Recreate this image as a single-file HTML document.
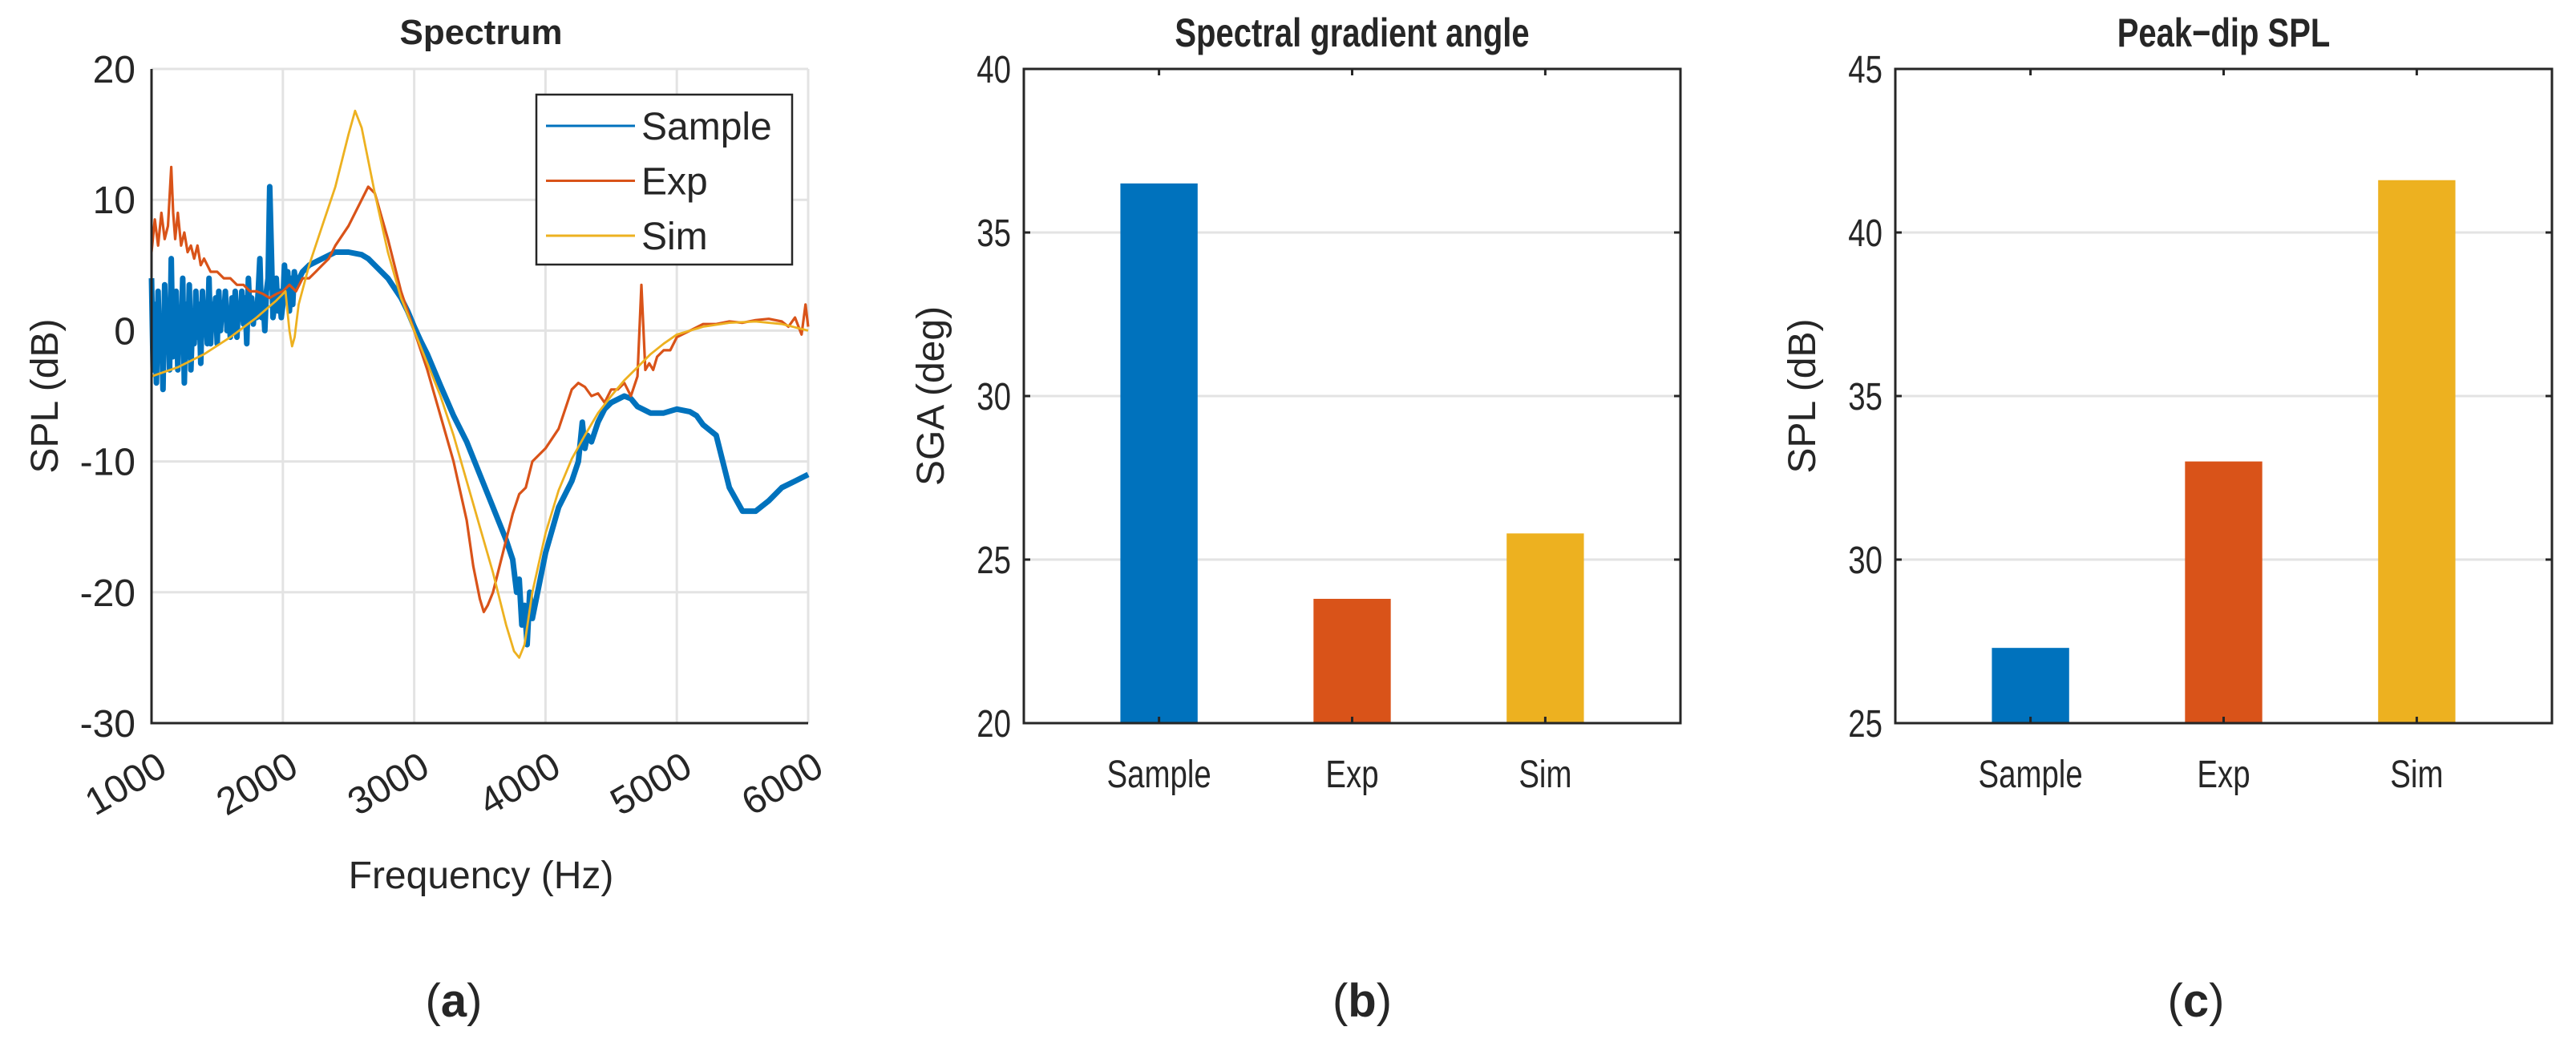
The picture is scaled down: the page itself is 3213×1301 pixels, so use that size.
<!DOCTYPE html>
<html><head><meta charset="utf-8">
<style>
html,body{margin:0;padding:0;background:#fff;}
svg{display:block;}
text{font-family:"Liberation Sans",sans-serif;fill:#262626;}
</style></head>
<body>
<svg id="fig" width="3213" height="1301" viewBox="0 0 3213 1301" xmlns="http://www.w3.org/2000/svg">
<g id="pa"></g>
<g id="pb"></g>
<g id="pc"></g>
</svg>
<script>
// ---- Spectrum data ----
const sampleFreq = [1000,1012.5,1025,1037.5,1050,1062.5,1075,1087.5,1100,1112.5,
1125,1137.5,1150,1162.5,1175,1187.5,1200,1212.5,1225,1237.5,
1250,1262.5,1275,1287.5,1300,1312.5,1325,1337.5,1350,1362.5,
1375,1387.5,1400,1412.5,1425,1437.5,1450,1462.5,1475,1487.5,
1500,1512.5,1525,1537.5,1550,1562.5,1575,1587.5,1600,1612.5,
1625,1637.5,1650,1662.5,1675,1687.5,1700,1712.5,1725,1737.5,
1750,1762.5,1775,1787.5,1800,1812.5,1825,1837.5,1850,1862.5,
1875,1887.5,1900,1912.5,1925,1937.5,1950,1962.5,1975,1987.5,
2000,2012.5,2025,2037.5,2050,2062.5,2075,2087.5,2100,
2150,2200,2300,2400,2500,2600,2650,2700,2800,2900,2950,3000,3050,3100,3150,3200,3300,3400,3500,3600,3700,3750,3780,3800,3820,3840,3860,3880,3900,3950,4000,4100,4200,4250,4280,4300,4320,4350,4400,4450,4500,4600,4650,4700,4800,4900,5000,5100,5150,5200,5300,5350,5400,5500,5600,5700,5800,5900,6000];
const sampleSPL = [4,-3,2,-4,3,-2,1,-4.5,3.5,-1,
2,-3,5.5,-2,0,3,-3,1.5,-1,4,
-4,2,-2,3.5,-3,1,-1,3,-0.5,2,
-2.5,3,0,1.5,-1,4,-1,2,0.5,2.5,
-1,3,0,2,1,3,0,1.5,-0.5,2.5,
0,3,-0.5,2,1,3,0.5,2.5,-1,4,
1,2.5,0.5,2,1,3,5.5,1,2.5,0,
3,4,11,6,1,2,4,1.5,3,1,
2,5,3,4.5,1.5,4,2,4.5,3.5,
4.5,5,5.5,6,6,5.8,5.5,5,4,2.5,1.5,0.3,-0.8,-1.8,-3,-4.2,-6.5,-8.5,-11,-13.5,-16,-17.5,-20,-19,-22.5,-21,-24,-20,-22,-19.5,-17,-13.5,-11.5,-10,-7,-9,-8,-8.5,-7,-6,-5.5,-5,-5.2,-5.8,-6.3,-6.3,-6,-6.2,-6.5,-7.2,-8,-10,-12,-13.8,-13.8,-13,-12,-11.5,-11];
const expFreq = [1000,1025,1050,1075,1100,1125,1150,1165,1180,1200,1225,1250,1275,1300,1325,1350,1375,1400,1450,1500,1550,1600,1650,1700,1750,1800,1850,1900,1950,2000,2050,2100,2150,2200,2250,2300,2350,2400,2500,2600,2650,2700,2800,2900,3000,3100,3200,3300,3400,3450,3500,3530,3560,3600,3650,3700,3750,3800,3850,3900,4000,4100,4200,4250,4300,4350,4400,4450,4500,4550,4600,4650,4700,4730,4760,4790,4820,4850,4900,4950,5000,5100,5200,5300,5400,5500,5600,5700,5800,5850,5900,5950,5980,6000];
const expSPL = [6,8.5,6.5,9,7,8,12.5,9,7,9,6.5,7.5,6,6.5,5.5,6.5,5,5.5,4.5,4.5,4,4,3.5,3.5,3,3,2.8,2.5,2.8,3,3.5,3,4,4,4.5,5,5.5,6.5,8,10,11,10.5,7,3,0,-3,-6.5,-10,-14.5,-18,-20.5,-21.5,-21,-20,-18,-16,-14,-12.5,-12,-10,-9,-7.5,-4.5,-4,-4.3,-5,-4.8,-5.5,-4.5,-4.5,-4,-5,-3.5,3.5,-3,-2.5,-3,-2,-1.5,-1.5,-0.5,0,0.5,0.5,0.7,0.6,0.8,0.9,0.7,0.3,1,-0.3,2,0.3];
const simFreq = [1000,1200,1400,1600,1800,1950,2020,2050,2070,2090,2120,2200,2300,2400,2500,2550,2600,2700,2800,2900,3000,3100,3200,3300,3400,3500,3600,3700,3760,3800,3840,3900,4000,4100,4200,4300,4400,4500,4600,4700,4800,4900,5000,5200,5400,5600,5800,6000];
const simSPL = [-3.5,-2.8,-1.8,-0.5,1,2.3,3,0,-1.2,-0.5,2,5,8,11,15,16.8,15.5,10.5,6,2.5,0,-2.5,-5,-8,-11.5,-15,-18.5,-22.5,-24.5,-25,-24,-20,-15.5,-12.2,-9.8,-8,-6.3,-5,-3.8,-2.8,-1.8,-1,-0.3,0.3,0.6,0.7,0.5,0];
const specXTicks = [1000,2000,3000,4000,5000,6000];
const specYTicks = [-30,-20,-10,0,10,20];
const legendLabels = ["Sample","Exp","Sim"];
// ---- Bar data ----
const barCategories = ["Sample","Exp","Sim"];
const sgaValues = [36.5,23.8,25.8];
const peakDipValues = [27.3,33.0,41.6];
const sgaTicks = [20,25,30,35,40];
const pdTicks = [25,30,35,40,45];
const colors = ["#0072BD","#D95319","#EDB120"];

const NS="http://www.w3.org/2000/svg";
function mk(parent,tag,attrs,txt){const e=document.createElementNS(NS,tag);for(const k in attrs)e.setAttribute(k,attrs[k]);if(txt!==undefined)e.textContent=txt;parent.appendChild(e);return e;}

// ===== Panel A =====
(function(){
const g=document.getElementById('pa');
const L=189,R=1008,T=86,B=902;
const xs=f=>L+(f-1000)/5000*(R-L);
const ys=v=>B-(v+30)/50*(B-T);
specXTicks.forEach(t=>{const l=mk(g,'line',{x1:xs(t),x2:xs(t),y1:T,y2:B,stroke:'#e3e3e3','stroke-width':3});

});
specYTicks.forEach(t=>{const l=mk(g,'line',{x1:L,x2:R,y1:ys(t),y2:ys(t),stroke:'#e3e3e3','stroke-width':3});

});
const series=[[sampleFreq,sampleSPL,7],[expFreq,expSPL,3.2],[simFreq,simSPL,2.8]];
const names=['sample-line','exp-line','sim-line'];
series.forEach((s,i)=>{const n=Math.min(s[0].length,s[1].length);const d=s[0].slice(0,n).map((f,j)=>(j?'L':'M')+xs(f).toFixed(1)+' '+ys(s[1][j]).toFixed(1)).join(' ');
const p=mk(g,'path',{d:d,fill:'none',stroke:colors[i],'stroke-width':s[2],'stroke-linejoin':'round'});

});
const ax=mk(g,'path',{d:`M${L} ${T} L${L} ${B} L${R} ${B}`,fill:'none',stroke:'#262626','stroke-width':3});


specYTicks.forEach(t=>{const tx=mk(g,'text',{x:L-20,y:ys(t)+17,'font-size':48,'text-anchor':'end'},String(t));

});
specXTicks.forEach(t=>{const x=xs(t)+22,y=965;const tx=mk(g,'text',{x:x,y:y,'font-size':48,'text-anchor':'end',transform:`rotate(-30 ${x} ${y})`},String(t));

});
const xl=mk(g,'text',{x:600,y:1108,'font-size':48,'text-anchor':'middle'},'Frequency (Hz)');


const yl=mk(g,'text',{x:0,y:0,'font-size':48,'text-anchor':'middle',transform:'translate(72 494) rotate(-90)'},'SPL (dB)');


const ti=mk(g,'text',{x:600,y:55,'font-size':44,'font-weight':'bold','text-anchor':'middle',fill:'#000'},'Spectrum');


const lg=mk(g,'g',{});


mk(lg,'rect',{x:669,y:118,width:319,height:212,fill:'#fff',stroke:'#262626','stroke-width':2.5});
legendLabels.forEach((n,i)=>{const y=157+i*68.5;
const e=mk(lg,'g',{});


mk(e,'line',{x1:681,x2:792,y1:y,y2:y,stroke:colors[i],'stroke-width':3});
mk(e,'text',{x:800,y:y+17,'font-size':48,fill:'#000'},n);});
const cap=mk(g,'text',{x:566,y:1268,'font-size':58,'text-anchor':'middle','font-family':'Liberation Serif, serif',fill:'#000'});
cap.innerHTML='(<tspan font-weight="bold">a</tspan>)';


})();

// ===== Bar panels =====
function barPanel(id,L,vals,ticks,title,ylabel,caption,capX){
const g=document.getElementById(id);
const R=L+819,T=86,B=902;
const y0=ticks[0],y1=ticks[ticks.length-1];
const xs=c=>L+(c-0.3)/3.4*(R-L);
const ys=v=>B-(v-y0)/(y1-y0)*(B-T);
ticks.forEach(t=>{const l=mk(g,'line',{x1:L,x2:R,y1:ys(t),y2:ys(t),stroke:'#e3e3e3','stroke-width':3});

});
vals.forEach((v,i)=>{const c=i+1;const r=mk(g,'rect',{x:xs(c-0.2),y:ys(v),width:xs(c+0.2)-xs(c-0.2),height:B-ys(v),fill:colors[i]});

});
const ax=mk(g,'rect',{x:L,y:T,width:R-L,height:B-T,fill:'none',stroke:'#262626','stroke-width':3});


ticks.forEach(t=>{mk(g,'line',{x1:L,x2:L+8,y1:ys(t),y2:ys(t),stroke:'#262626','stroke-width':3});mk(g,'line',{x1:R,x2:R-8,y1:ys(t),y2:ys(t),stroke:'#262626','stroke-width':3});
const tx=mk(g,'text',{x:L-16,y:ys(t)+17,'font-size':48,'text-anchor':'end',transform:`translate(${L-16} 0) scale(0.8 1) translate(${-(L-16)} 0)`},String(t));

});
barCategories.forEach((n,i)=>{const x=xs(i+1);mk(g,'line',{x1:x,x2:x,y1:B,y2:B-8,stroke:'#262626','stroke-width':3});mk(g,'line',{x1:x,x2:x,y1:T,y2:T+8,stroke:'#262626','stroke-width':3});
const tx=mk(g,'text',{x:x,y:982,'font-size':48,'text-anchor':'middle',transform:`translate(${x} 0) scale(0.8 1) translate(${-x} 0)`},n);

});
const yl=mk(g,'text',{x:0,y:0,'font-size':48,'text-anchor':'middle',transform:`translate(${L-100} 494) rotate(-90)`},ylabel);


const cx=(L+R)/2;
const ti=mk(g,'text',{x:cx,y:58,'font-size':50,'font-weight':'bold','text-anchor':'middle',fill:'#000',transform:`translate(${cx} 0) scale(0.8 1) translate(${-cx} 0)`},title);


const cap=mk(g,'text',{x:capX,y:1268,'font-size':58,'text-anchor':'middle','font-family':'Liberation Serif, serif',fill:'#000'});
cap.innerHTML='(<tspan font-weight="bold">'+caption+'</tspan>)';


}
barPanel('pb',1277,sgaValues,sgaTicks,'Spectral gradient angle','SGA (deg)','b',1699);
barPanel('pc',2364,peakDipValues,pdTicks,'Peak\u2212dip SPL','SPL (dB)','c',2739);
</script>
</body></html>
